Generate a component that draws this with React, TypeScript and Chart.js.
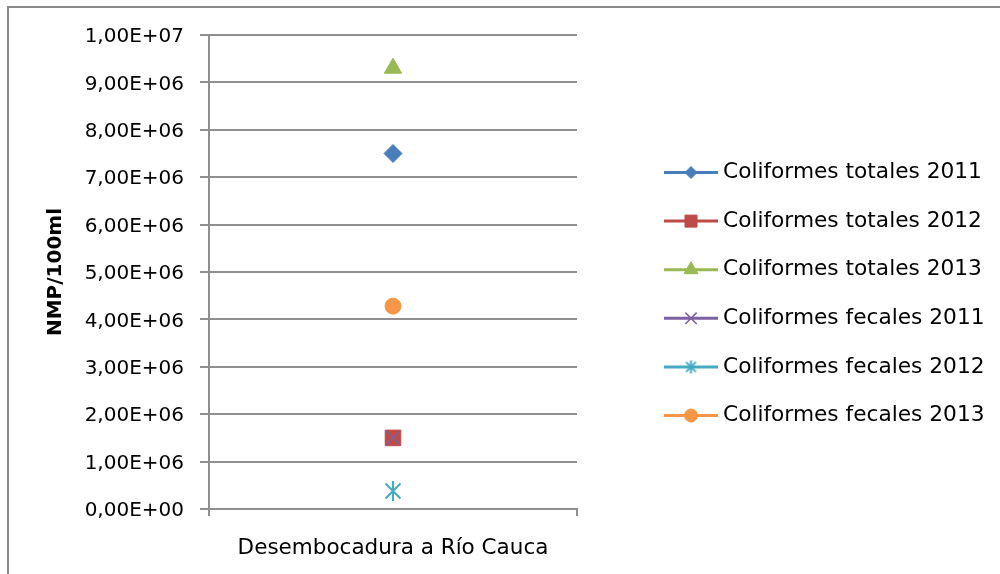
import React, { useEffect, useRef } from 'react';
import { Chart, registerables } from 'chart.js';
import { drawPoint } from 'chart.js/helpers';

Chart.register(...registerables);

const categories = ['Desembocadura a Río Cauca'];
const seriesNames = [
  'Coliformes totales 2011',
  'Coliformes totales 2012',
  'Coliformes totales 2013',
  'Coliformes fecales 2011',
  'Coliformes fecales 2012',
  'Coliformes fecales 2013',
];
const totales2011 = [7.5e6];
const totales2012 = [1.5e6];
const totales2013 = [9.3e6];
const fecales2011 = [1.5e6];
const fecales2012 = [3.8e5];
const fecales2013 = [4.28e6];
const yMin = 0;
const yMax = 1e7;
const yStep = 1e6;

const seriesColors = ['#4A7EBB', '#BE4B48', '#98B954', '#7D60A0', '#46AAC5', '#F79646'];

function sciLabel(v: number): string {
  if (v === 0) return '0,00E+00';
  const exp = Math.floor(Math.log10(Math.abs(v)) + 1e-9);
  const mant = v / Math.pow(10, exp);
  const e = Math.abs(exp).toString().padStart(2, '0');
  return mant.toFixed(2).replace('.', ',') + 'E' + (exp < 0 ? '-' : '+') + e;
}

function makeStar(color: string, size: number, lw: number): HTMLCanvasElement {
  const c = document.createElement('canvas');
  c.width = size;
  c.height = size;
  const g = c.getContext('2d')!;
  const h = size / 2;
  const r = h - 1;
  g.strokeStyle = color;
  g.lineWidth = lw;
  g.beginPath();
  g.moveTo(h, h - r);
  g.lineTo(h, h + r);
  const d = r * 0.75;
  g.moveTo(h - d, h - d);
  g.lineTo(h + d, h + d);
  g.moveTo(h - d, h + d);
  g.lineTo(h + d, h - d);
  g.stroke();
  return c;
}

const FONT = '"DejaVu Sans", sans-serif';

const legendPlugin = {
  id: 'excelLegend',
  afterDraw(chart: any) {
    const ctx = chart.ctx as CanvasRenderingContext2D;
    const x0 = 664;
    const x1 = 718;
    const tx = 723;
    const y0 = 172.5;
    const dy = 48.6;
    chart.data.datasets.forEach((ds: any, i: number) => {
      const y = y0 + i * dy;
      ctx.save();
      ctx.strokeStyle = ds.borderColor;
      ctx.lineWidth = 3;
      ctx.beginPath();
      ctx.moveTo(x0, y);
      ctx.lineTo(x1, y);
      ctx.stroke();
      ctx.fillStyle = ds.pointBackgroundColor;
      ctx.strokeStyle = ds.pointBorderColor;
      ctx.lineWidth = ds.legendBorderWidth;
      drawPoint(
        ctx,
        {
          pointStyle: ds.legendPointStyle || ds.pointStyle,
          rotation: 0,
          radius: ds.legendRadius,
          borderWidth: ds.legendBorderWidth,
        } as any,
        (x0 + x1) / 2,
        y
      );
      ctx.fillStyle = '#000';
      ctx.font = '21.7px ' + FONT;
      ctx.textBaseline = 'middle';
      ctx.textAlign = 'left';
      ctx.fillText(ds.label, tx, y);
      ctx.restore();
    });
  },
};

export default function App() {
  const ref = useRef<HTMLCanvasElement>(null);
  useEffect(() => {
    if (!ref.current) return;
    const starBig = makeStar(seriesColors[4], 22, 2);
    const starSmall = makeStar(seriesColors[4], 15, 2);
    const gridColor = '#8f8f8f';
    const chart = new Chart(ref.current, {
      type: 'line',
      data: {
        labels: categories,
        datasets: [
          {
            label: seriesNames[0],
            data: totales2011,
            borderColor: seriesColors[0],
            pointBackgroundColor: seriesColors[0],
            pointBorderColor: seriesColors[0],
            pointStyle: 'rectRot',
            pointRadius: 9,
            pointBorderWidth: 1,
            legendRadius: 6,
            legendBorderWidth: 1,
          } as any,
          {
            label: seriesNames[1],
            data: totales2012,
            borderColor: seriesColors[1],
            pointBackgroundColor: seriesColors[1],
            pointBorderColor: seriesColors[1],
            pointStyle: 'rect',
            pointRadius: 11,
            pointBorderWidth: 1,
            legendRadius: 8.5,
            legendBorderWidth: 1,
          } as any,
          {
            label: seriesNames[2],
            data: totales2013,
            borderColor: seriesColors[2],
            pointBackgroundColor: seriesColors[2],
            pointBorderColor: seriesColors[2],
            pointStyle: 'triangle',
            pointRadius: 10,
            pointBorderWidth: 1,
            legendRadius: 8,
            legendBorderWidth: 1,
          } as any,
          {
            label: seriesNames[3],
            data: fecales2011,
            borderColor: seriesColors[3],
            pointBackgroundColor: seriesColors[3],
            pointBorderColor: seriesColors[3],
            pointStyle: 'crossRot',
            pointRadius: 10,
            pointBorderWidth: 1.5,
            legendRadius: 8,
            legendBorderWidth: 1.5,
            order: -1,
          } as any,
          {
            label: seriesNames[4],
            data: fecales2012,
            borderColor: seriesColors[4],
            pointBackgroundColor: seriesColors[4],
            pointBorderColor: seriesColors[4],
            pointStyle: starBig,
            legendPointStyle: starSmall,
            pointRadius: 10,
            pointBorderWidth: 1,
            legendRadius: 7,
            legendBorderWidth: 1,
          } as any,
          {
            label: seriesNames[5],
            data: fecales2013,
            borderColor: seriesColors[5],
            pointBackgroundColor: seriesColors[5],
            pointBorderColor: seriesColors[5],
            pointStyle: 'circle',
            pointRadius: 8,
            pointBorderWidth: 1,
            legendRadius: 6.5,
            legendBorderWidth: 1,
          } as any,
        ],
      },
      options: {
        animation: false,
        responsive: true,
        maintainAspectRatio: false,
        showLine: false,
        layout: { padding: { left: 0, right: 423, top: 35, bottom: 0 } },
        plugins: {
          legend: { display: false },
          tooltip: { enabled: false },
        },
        scales: {
          x: {
            type: 'category',
            offset: true,
            grid: {
              offset: true,
              drawOnChartArea: false,
              drawTicks: true,
              tickLength: 7,
              color: gridColor,
              lineWidth: 2,
            },
            border: { display: true, color: gridColor, width: 2 },
            ticks: {
              color: '#000',
              font: { family: FONT, size: 21.5 },
              padding: 20,
            },
            afterFit: (scale: any) => {
              scale.height = 65;
            },
          },
          y: {
            min: yMin,
            max: yMax,
            ticks: {
              stepSize: yStep,
              color: '#000',
              font: { family: FONT, size: 20 },
              padding: 16,
              labelOffset: 2,
              callback: (v: any) => sciLabel(Number(v)),
            },
            grid: {
              color: gridColor,
              lineWidth: 2,
              tickLength: 9,
            },
            border: { display: true, color: gridColor, width: 2 },
            title: {
              display: true,
              text: 'NMP/100ml',
              color: '#000',
              font: { family: FONT, size: 20, weight: 'bold' },
              padding: { top: 44, bottom: 0 },
            },
            afterFit: (scale: any) => {
              scale.width = 209;
            },
          },
        },
      } as any,
      plugins: [legendPlugin],
    });
    return () => chart.destroy();
  }, []);

  return (
    <div style={{ position: 'fixed', left: 0, top: 0, width: 1000, height: 574, background: '#fff' }}>
      <div
        style={{
          position: 'absolute',
          left: 7,
          top: 6,
          right: 0,
          bottom: 0,
          borderLeft: '2px solid #8a8a8a',
          borderTop: '2px solid #8a8a8a',
        }}
      />
      <canvas ref={ref} style={{ position: 'absolute', left: 0, top: 0 }} />
    </div>
  );
}
